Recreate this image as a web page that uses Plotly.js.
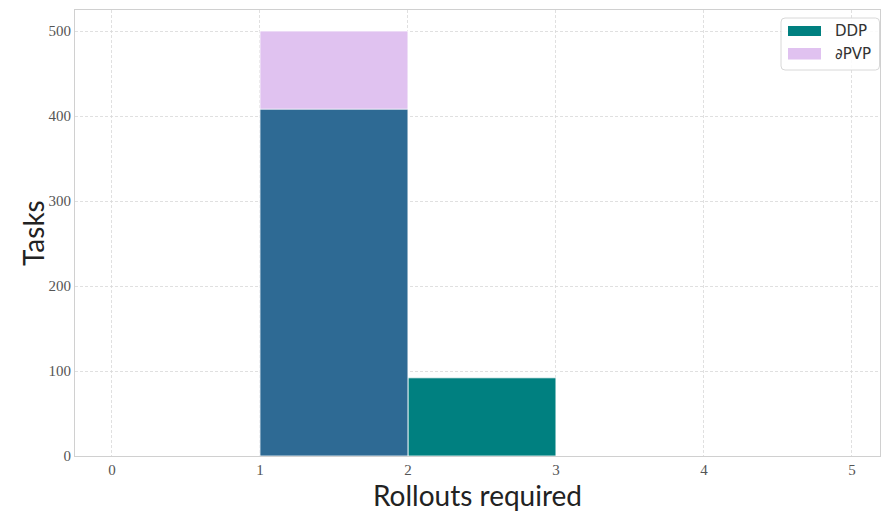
<!DOCTYPE html>
<html><head><meta charset="utf-8">
<script src="https://cdn.plot.ly/plotly-3.0.1.min.js"></script>
<style>body{margin:0;background:#fff}</style>
</head><body>
<div id="chart" style="width:881px;height:518px"></div>
<script>
// Data
const pvpBins = [1];
const pvpCounts = [500];
const ddpBins = [2, 1];
const ddpCounts = [92, 408];
const ddpColors = ['#008080', '#2e6a94']; // second: overlap with ∂PVP
const xTicks = [0, 1, 2, 3, 4, 5];
const yTicks = [0, 100, 200, 300, 400, 500];
const seriesNames = ['DDP', '∂PVP'];
const seriesColors = ['#008080', '#e0c2f0'];

const tickFont = {family: 'Liberation Serif, DejaVu Serif, serif', size: 15, color: '#555'};
const titleFont = {family: 'Lato, Open Sans, sans-serif', size: 28, color: '#222'};

const data = [
  {type: 'bar', name: seriesNames[1], x: pvpBins, y: pvpCounts, offset: 0, width: 1,
   marker: {color: seriesColors[1], line: {color: '#ffffff', width: 0.8}}, showlegend: false},
  {type: 'bar', name: seriesNames[0], x: ddpBins, y: ddpCounts, offset: 0, width: [1, 1],
   marker: {color: ddpColors, line: {color: '#ffffff', width: 0.8}}, showlegend: false}
];

// custom legend (plot area: x 75..880, y 10..456 px)
const W = 805, H = 446;
const fx = px => (px - 75) / W;
const fy = py => (456 - py) / H;
const r = 4;
const bx0 = 781, bx1 = 879.5, by0 = 18, by1 = 70;
const boxPath = `M${fx(bx0 + r)},${fy(by0)} L${fx(bx1 - r)},${fy(by0)} Q${fx(bx1)},${fy(by0)} ${fx(bx1)},${fy(by0 + r)} ` +
  `L${fx(bx1)},${fy(by1 - r)} Q${fx(bx1)},${fy(by1)} ${fx(bx1 - r)},${fy(by1)} L${fx(bx0 + r)},${fy(by1)} ` +
  `Q${fx(bx0)},${fy(by1)} ${fx(bx0)},${fy(by1 - r)} L${fx(bx0)},${fy(by0 + r)} Q${fx(bx0)},${fy(by0)} ${fx(bx0 + r)},${fy(by0)} Z`;
const shapes = [
  {type: 'path', xref: 'paper', yref: 'paper', path: boxPath, fillcolor: 'rgba(255,255,255,0.85)',
   line: {color: '#d8d8d8', width: 1}, layer: 'above'}
];
const annotations = [];
const rows = [{top: 26, bot: 36, ty: 31}, {top: 48, bot: 59.5, ty: 53.5}];
rows.forEach((rw, i) => {
  shapes.push({type: 'rect', xref: 'paper', yref: 'paper', x0: fx(788), x1: fx(821), y0: fy(rw.bot), y1: fy(rw.top),
    fillcolor: seriesColors[i], line: {width: 0}, layer: 'above'});
  annotations.push({xref: 'paper', yref: 'paper', x: fx(833), y: fy(rw.ty), xanchor: 'left', yanchor: 'middle',
    text: seriesNames[i], showarrow: false, font: {family: 'DejaVu Sans, sans-serif', size: 15, color: '#333'}});
});
// y-axis title
annotations.push({xref: 'paper', yref: 'paper', x: fx(33), y: fy(233), xanchor: 'center', yanchor: 'middle',
  textangle: -90, text: 'Tasks', showarrow: false, font: titleFont});

const layout = {
  width: 881, height: 518,
  margin: {l: 75, r: 1, t: 10, b: 62},
  barmode: 'overlay',
  paper_bgcolor: '#fff', plot_bgcolor: '#fff',
  showlegend: false,
  shapes: shapes, annotations: annotations,
  xaxis: {range: [-0.25, 5.19], tickvals: xTicks, ticktext: xTicks.map(String),
          tickfont: tickFont, showgrid: true, gridcolor: '#d8d8d8', griddash: '3px,2px', gridwidth: 0.8,
          showline: true, linecolor: '#d0d0d0', linewidth: 1, mirror: true, zeroline: false,
          ticks: '', ticklen: 0,
          title: {text: 'Rollouts required', font: titleFont, standoff: 8}},
  yaxis: {range: [0, 524.7], tickvals: yTicks, ticktext: yTicks.map(String),
          tickfont: tickFont, showgrid: true, gridcolor: '#d8d8d8', griddash: '3px,2px', gridwidth: 0.8,
          showline: true, linecolor: '#d0d0d0', linewidth: 1, mirror: true, zeroline: false,
          ticks: '', ticklen: 0},
};

Plotly.newPlot('chart', data, layout, {displayModeBar: false, staticPlot: true});
</script>
</body></html>
